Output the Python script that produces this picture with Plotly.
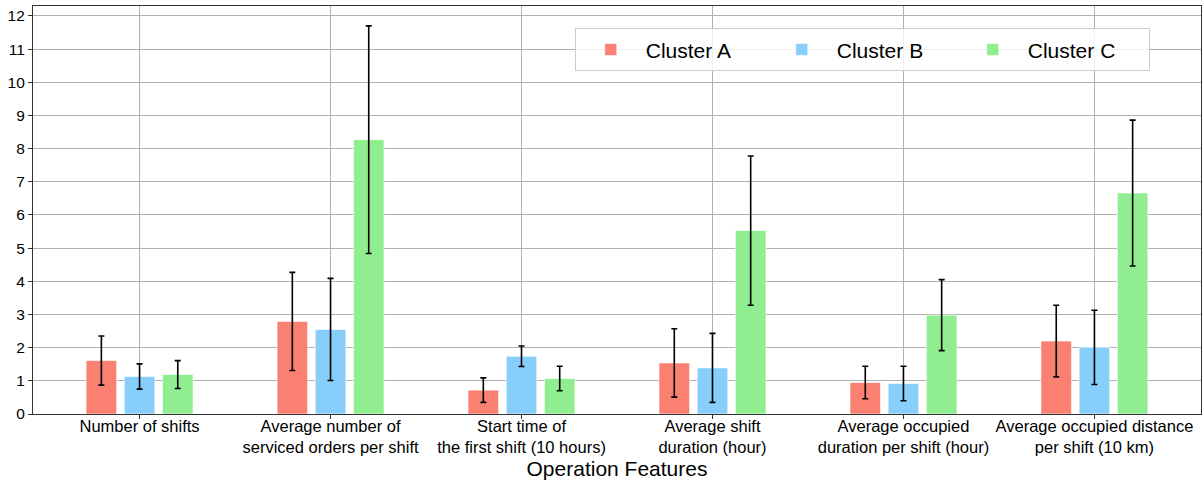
import plotly.graph_objects as go

features = [
    "Number of shifts",
    "Average number of<br>serviced orders per shift",
    "Start time of<br>the first shift (10 hours)",
    "Average shift<br>duration (hour)",
    "Average occupied<br>duration per shift (hour)",
    "Average occupied distance<br>per shift (10 km)",
]

cluster_a_mean = [1.61, 2.79, 0.72, 1.54, 0.95, 2.20]
cluster_a_std = [0.74, 1.48, 0.37, 1.03, 0.49, 1.08]
cluster_b_mean = [1.13, 2.55, 1.74, 1.39, 0.92, 2.01]
cluster_b_std = [0.38, 1.54, 0.31, 1.04, 0.52, 1.12]
cluster_c_mean = [1.19, 8.27, 1.07, 5.53, 2.98, 6.66]
cluster_c_std = [0.42, 3.43, 0.37, 2.25, 1.07, 2.20]

series = [
    ("Cluster A", cluster_a_mean, cluster_a_std, "#FA8072"),
    ("Cluster B", cluster_b_mean, cluster_b_std, "#87CEFA"),
    ("Cluster C", cluster_c_mean, cluster_c_std, "#90EE90"),
]

font_family = "Liberation Sans, Arial, sans-serif"

fig = go.Figure()
for name, mean, std, color in series:
    fig.add_trace(go.Bar(
        name=name,
        x=features,
        y=mean,
        marker=dict(color=color, line=dict(color="rgba(255,255,255,0.6)", width=1)),
        error_y=dict(type="data", array=std, visible=True,
                     color="black", thickness=1.6, width=3),
    ))

fig.update_layout(
    width=1203,
    height=480,
    margin=dict(l=33, r=2, t=6, b=66),
    paper_bgcolor="white",
    plot_bgcolor="white",
    barmode="group",
    bargap=0.4,
    bargroupgap=0.2,
    font=dict(family=font_family, color="black", size=16),
    legend=dict(
        orientation="h",
        x=0.710, xanchor="center",
        y=0.945, yanchor="top",
        font=dict(size=21),
        bordercolor="#cccccc",
        borderwidth=1,
        bgcolor="rgba(255,255,255,0.8)",
        entrywidth=116,
        itemwidth=60,
    ),
    xaxis=dict(
        title=dict(text="Operation Features", font=dict(size=21), standoff=6),
        range=[-0.558, 5.558],
        showgrid=True, gridcolor="#b0b0b0", gridwidth=1,
        ticks="outside", ticklen=4, tickcolor="#333",
        showline=True, linecolor="#333", linewidth=1.2, mirror=True,
        tickfont=dict(size=16.5),
        ticklabelstandoff=-7,
    ),
    yaxis=dict(
        range=[0, 12.3],
        dtick=1,
        showgrid=True, gridcolor="#b0b0b0", gridwidth=1,
        ticks="outside", ticklen=4, tickcolor="#333",
        showline=True, linecolor="#333", linewidth=1.2, mirror=True,
        zeroline=False,
        tickfont=dict(size=15.5),
    ),
)

fig.write_html("out.html")
